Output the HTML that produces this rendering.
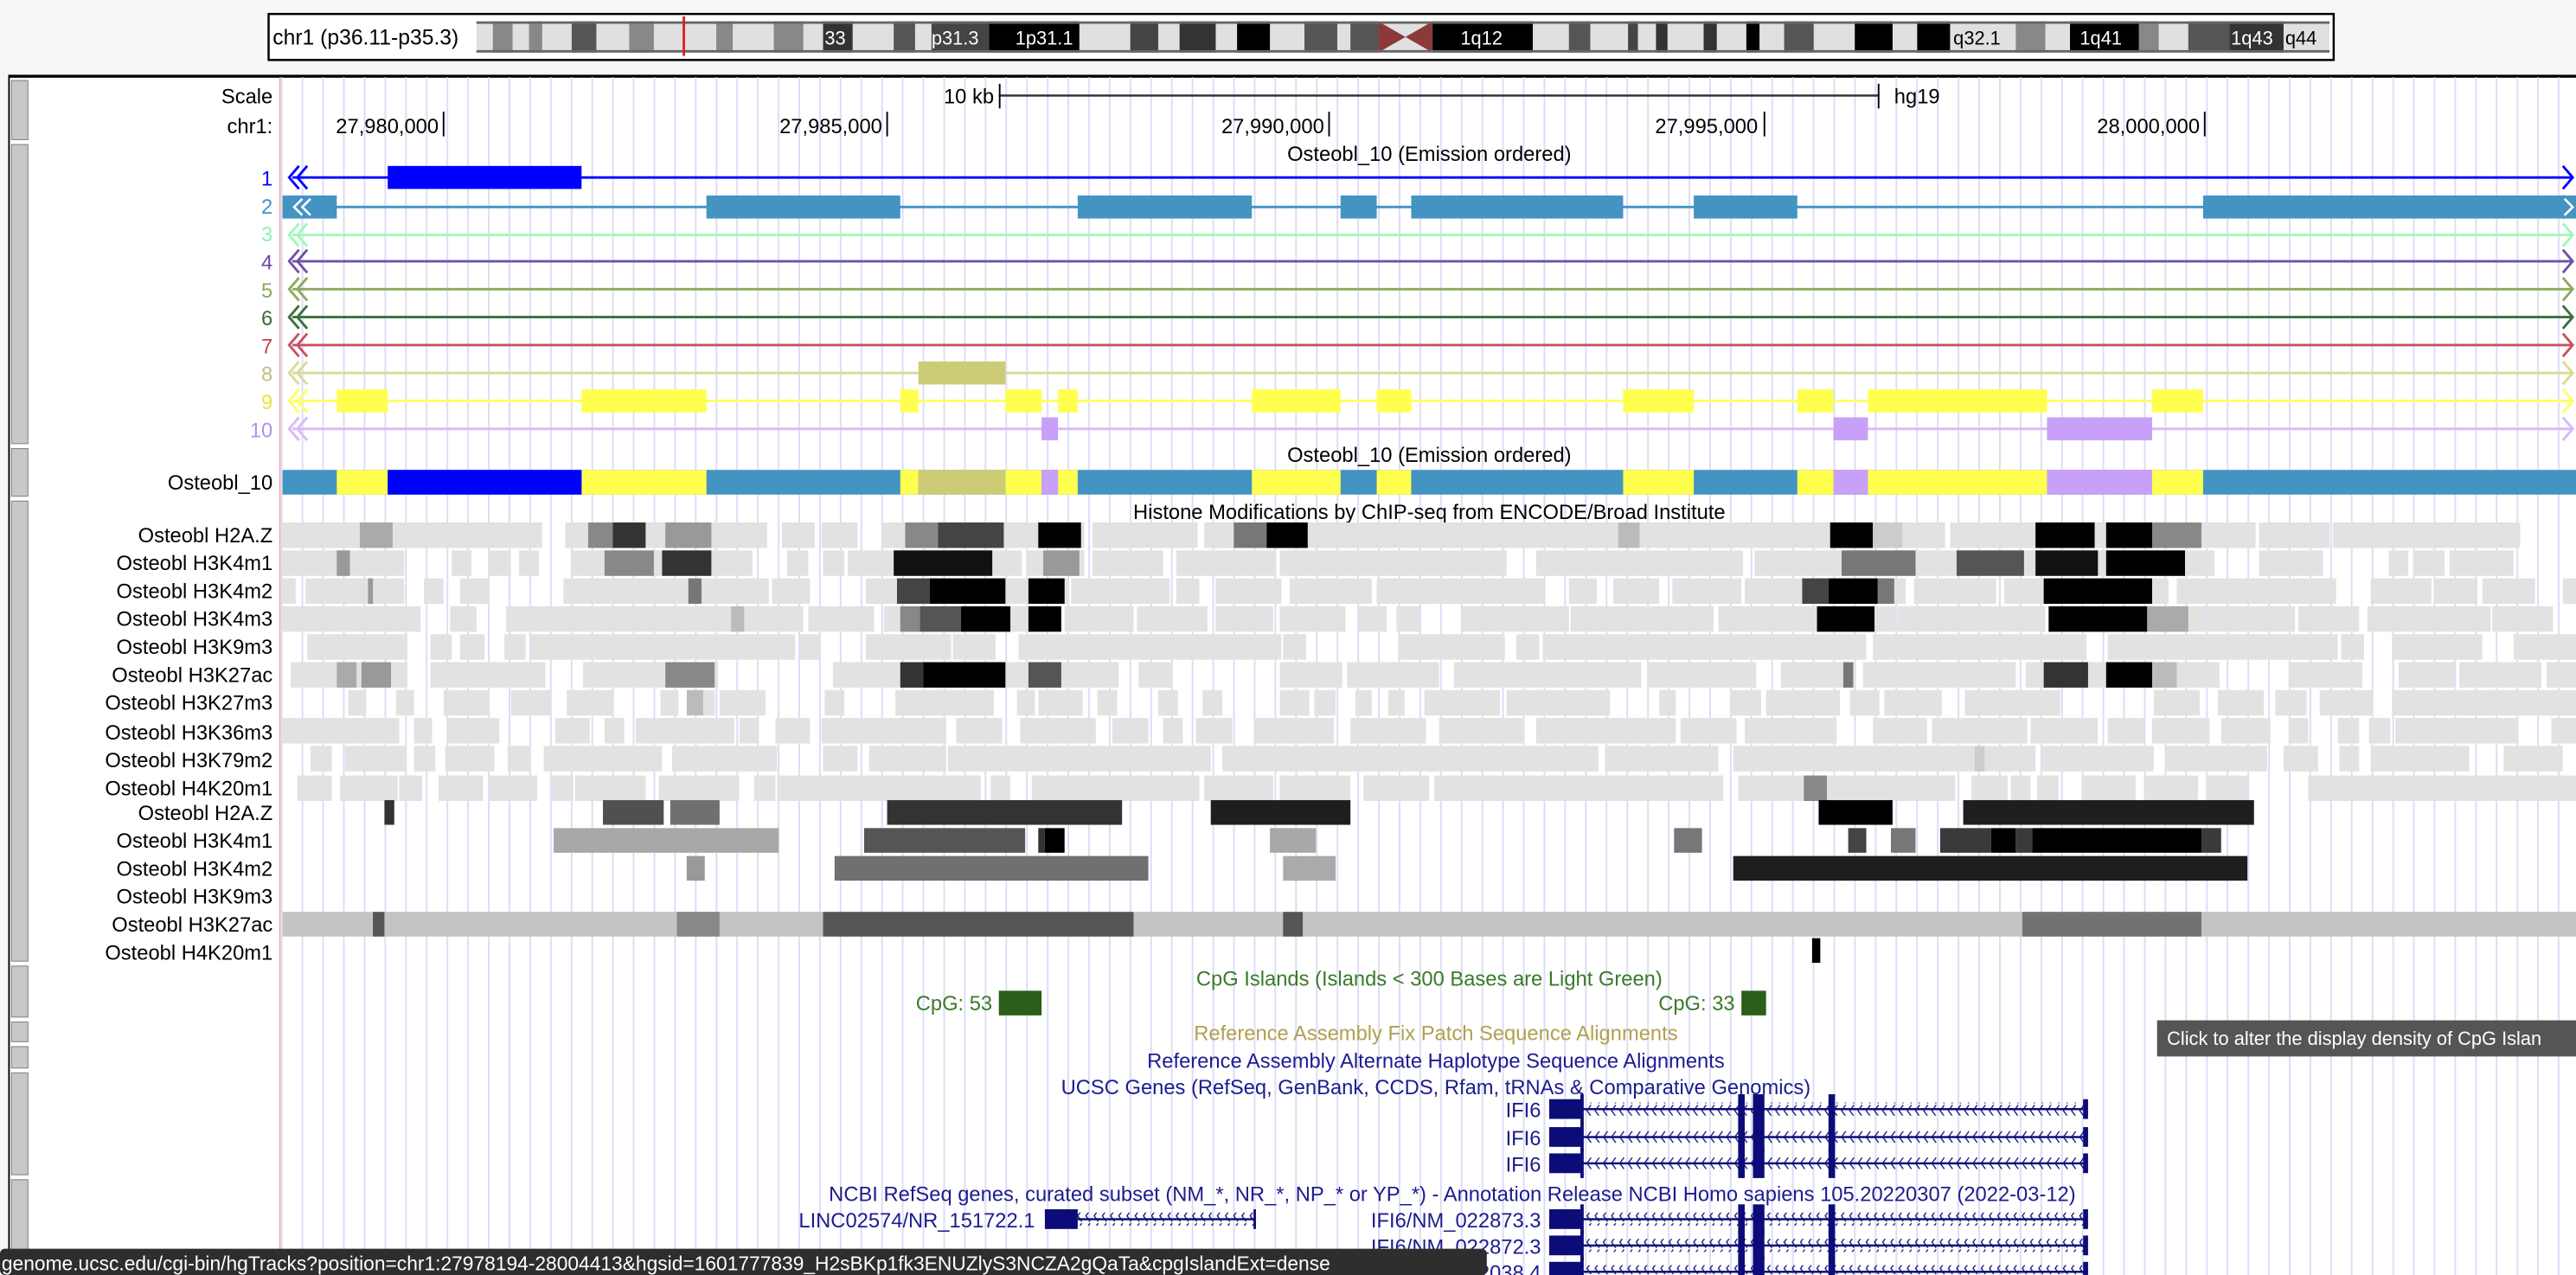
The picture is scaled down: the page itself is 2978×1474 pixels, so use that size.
<!DOCTYPE html>
<html><head><meta charset="utf-8">
<style>
html,body{margin:0;padding:0;background:#f7f7f5;overflow:hidden;}
svg{display:block;}
text{font-family:"Liberation Sans",Arial,sans-serif;}
</style></head>
<body>
<svg width="2978" height="1474" viewBox="0 0 1568 776" preserveAspectRatio="none" xmlns="http://www.w3.org/2000/svg">
<defs>
<pattern id="grid" x="171" y="0" width="12.6" height="10" patternUnits="userSpaceOnUse">
<rect x="0" y="0" width="1" height="10" fill="#dcdcf6"/>
</pattern>
<pattern id="chev" x="0" y="0" width="5" height="8" patternUnits="userSpaceOnUse">
<polyline points="3.5,0.5 1,4 3.5,7.5" fill="none" stroke="#0c0c78" stroke-width="0.7"/>
</pattern>
</defs>
<rect x="0" y="0" width="1568" height="776" fill="#f7f7f5"/>

<!-- ideogram -->
<rect x="163.5" y="8.5" width="1257" height="28" fill="#fff" stroke="#000" stroke-width="1.3"/>
<text x="166" y="27" font-size="13" fill="#000">chr1 (p36.11-p35.3)</text>
<g>
<rect x="290" y="13" width="1128" height="19" fill="#e0e0e0"/>
<rect x="300" y="13" width="12" height="19" fill="#888"/>
<rect x="322" y="13" width="8" height="19" fill="#888"/>
<rect x="348" y="13" width="15" height="19" fill="#555"/>
<rect x="383" y="13" width="15" height="19" fill="#888"/>
<rect x="436" y="13" width="10" height="19" fill="#888"/>
<rect x="471" y="13" width="18" height="19" fill="#888"/>
<rect x="501" y="13" width="18" height="19" fill="#333"/>
<rect x="544" y="13" width="13" height="19" fill="#555"/>
<rect x="567" y="13" width="35" height="19" fill="#444"/>
<rect x="602" y="13" width="55" height="19" fill="#000"/>
<rect x="688" y="13" width="17" height="19" fill="#444"/>
<rect x="718" y="13" width="22" height="19" fill="#333"/>
<rect x="753" y="13" width="20" height="19" fill="#000"/>
<rect x="794" y="13" width="20" height="19" fill="#555"/>
<rect x="822" y="13" width="17" height="19" fill="#555"/>
<polygon points="839,13 872,32 872,13 839,32" fill="#8b3a3a"/>
<rect x="872" y="13" width="61" height="19" fill="#000"/>
<rect x="955" y="13" width="13" height="19" fill="#555"/>
<rect x="991" y="13" width="6" height="19" fill="#444"/>
<rect x="1008" y="13" width="7" height="19" fill="#333"/>
<rect x="1037" y="13" width="8" height="19" fill="#333"/>
<rect x="1063" y="13" width="8" height="19" fill="#000"/>
<rect x="1086" y="13" width="18" height="19" fill="#555"/>
<rect x="1129" y="13" width="23" height="19" fill="#000"/>
<rect x="1167" y="13" width="20" height="19" fill="#000"/>
<rect x="1227" y="13" width="18" height="19" fill="#888"/>
<rect x="1260" y="13" width="42" height="19" fill="#000"/>
<rect x="1302" y="13" width="12" height="19" fill="#888"/>
<rect x="1332" y="13" width="25" height="19" fill="#555"/>
<rect x="1357" y="13" width="33" height="19" fill="#333"/>
<rect x="290" y="13" width="1128" height="1.5" fill="#666"/>
<rect x="290" y="30.5" width="1128" height="1.5" fill="#666"/>
<rect x="415.5" y="10" width="1.5" height="24" fill="#e02020"/>
<text x="502" y="27" font-size="11.5" fill="#fff">33</text>
<text x="567" y="27" font-size="11.5" fill="#fff">p31.3</text>
<text x="618" y="27" font-size="11.5" fill="#fff">1p31.1</text>
<text x="889" y="27" font-size="11.5" fill="#fff">1q12</text>
<text x="1189" y="27" font-size="11.5" fill="#000">q32.1</text>
<text x="1266" y="27" font-size="11.5" fill="#fff">1q41</text>
<text x="1358" y="27" font-size="11.5" fill="#fff">1q43</text>
<text x="1391" y="27" font-size="11.5" fill="#000">q44</text>
</g>

<!-- main panel -->
<rect x="5" y="46" width="1563" height="730" fill="#fff"/>
<rect x="5" y="45.5" width="1563" height="1.8" fill="#000"/>
<rect x="5" y="46" width="1" height="730" fill="#000"/>
<rect x="171" y="47" width="1397" height="729" fill="url(#grid)"/>
<rect x="170" y="47" width="0.8" height="729" fill="#f0a0a0"/>

<!-- side buttons -->
<g fill="#c8c8c8" stroke="#888" stroke-width="0.6">
<rect x="7" y="49" width="10" height="36"/>
<rect x="7" y="88" width="10" height="182"/>
<rect x="7" y="273" width="10" height="29"/>
<rect x="7" y="305" width="10" height="280"/>
<rect x="7" y="588" width="10" height="31"/>
<rect x="7" y="622" width="10" height="12"/>
<rect x="7" y="637" width="10" height="13"/>
<rect x="7" y="653" width="10" height="62"/>
<rect x="7" y="718" width="10" height="60"/>
</g>

<!-- scale -->
<g font-size="12.5" fill="#000">
<text x="166" y="63" text-anchor="end">Scale</text>
<text x="166" y="81" text-anchor="end">chr1:</text>
<text x="605" y="63" text-anchor="end">10 kb</text>
<text x="1153" y="63">hg19</text>
<text x="267" y="81" text-anchor="end">27,980,000</text>
<text x="537" y="81" text-anchor="end">27,985,000</text>
<text x="806" y="81" text-anchor="end">27,990,000</text>
<text x="1070" y="81" text-anchor="end">27,995,000</text>
<text x="1339" y="81" text-anchor="end">28,000,000</text>
</g>
<rect x="608" y="57.5" width="536" height="1.3" fill="#333"/>
<rect x="608" y="51" width="1" height="15" fill="#000"/>
<rect x="1143" y="51" width="1" height="15" fill="#000"/>
<g fill="#000"><rect x="269.5" y="68" width="1" height="15"/><rect x="539.5" y="68" width="1" height="15"/><rect x="808.5" y="68" width="1" height="15"/><rect x="1073.5" y="68" width="1" height="15"/><rect x="1341.5" y="68" width="1" height="15"/></g>

<text x="870" y="98" font-size="12.5" text-anchor="middle" fill="#000">Osteobl_10 (Emission ordered)</text>

<!-- emission rows -->
<g font-size="12.5" text-anchor="end">
<text x="166" y="113" fill="#0000ff">1</text>
<text x="166" y="130" fill="#4393c3">2</text>
<text x="166" y="147" fill="#90f0b0">3</text>
<text x="166" y="164" fill="#6a4aa8">4</text>
<text x="166" y="181" fill="#8aa858">5</text>
<text x="166" y="198" fill="#3a6a3a">6</text>
<text x="166" y="215" fill="#c84050">7</text>
<text x="166" y="232" fill="#c0c080">8</text>
<text x="166" y="249" fill="#e6e640">9</text>
<text x="166" y="266" fill="#b090f0">10</text>
</g>
<g stroke-width="1.5" fill="none">
<g stroke="#0000ff"><line x1="178" y1="108" x2="1566" y2="108"/><polyline points="187,101 181,108 187,115"/><polyline points="182,101 176,108 182,115"/><polyline points="1560,101 1566,108 1560,115"/></g>
<g stroke="#4393c3"><line x1="178" y1="126" x2="1566" y2="126"/><polyline points="1560,119 1566,126 1560,133"/></g>
<g stroke="#9ff8b8"><line x1="178" y1="143" x2="1566" y2="143"/><polyline points="187,136 181,143 187,150"/><polyline points="182,136 176,143 182,150"/><polyline points="1560,136 1566,143 1560,150"/></g>
<g stroke="#7050a8"><line x1="178" y1="159" x2="1566" y2="159"/><polyline points="187,152 181,159 187,166"/><polyline points="182,152 176,159 182,166"/><polyline points="1560,152 1566,159 1560,166"/></g>
<g stroke="#8fa860"><line x1="178" y1="176" x2="1566" y2="176"/><polyline points="187,169 181,176 187,183"/><polyline points="182,169 176,176 182,183"/><polyline points="1560,169 1566,176 1560,183"/></g>
<g stroke="#3c6e3c"><line x1="178" y1="193" x2="1566" y2="193"/><polyline points="187,186 181,193 187,200"/><polyline points="182,186 176,193 182,200"/><polyline points="1560,186 1566,193 1560,200"/></g>
<g stroke="#c85060"><line x1="178" y1="210" x2="1566" y2="210"/><polyline points="187,203 181,210 187,217"/><polyline points="182,203 176,210 182,217"/><polyline points="1560,203 1566,210 1560,217"/></g>
<g stroke="#dada98"><line x1="178" y1="227" x2="1566" y2="227"/><polyline points="187,220 181,227 187,234"/><polyline points="182,220 176,227 182,234"/><polyline points="1560,220 1566,227 1560,234"/></g>
<g stroke="#ffff60"><line x1="178" y1="244" x2="1566" y2="244"/><polyline points="187,237 181,244 187,251"/><polyline points="182,237 176,244 182,251"/><polyline points="1560,237 1566,244 1560,251"/></g>
<g stroke="#d8b8fa"><line x1="178" y1="261" x2="1566" y2="261"/><polyline points="187,254 181,261 187,268"/><polyline points="182,254 176,261 182,268"/><polyline points="1560,254 1566,261 1560,268"/></g>
</g>
<rect x="236" y="101" width="118" height="14" fill="#0000ff"/>
<g fill="#4393c3">
<rect x="172" y="119" width="33" height="14"/><rect x="430" y="119" width="118" height="14"/><rect x="656" y="119" width="106" height="14"/><rect x="816" y="119" width="22" height="14"/><rect x="859" y="119" width="129" height="14"/><rect x="1031" y="119" width="63" height="14"/><rect x="1341" y="119" width="227" height="14"/>
</g>
<g stroke="#fff" stroke-width="1.4" fill="none"><polyline points="184,121 179,126 184,131"/><polyline points="189,121 184,126 189,131"/><polyline points="1561,121 1566,126 1561,131"/></g>
<rect x="559" y="220" width="53" height="14" fill="#cccc77"/>
<g fill="#ffff50">
<rect x="205" y="237" width="31" height="14"/><rect x="354" y="237" width="76" height="14"/><rect x="548" y="237" width="11" height="14"/><rect x="612" y="237" width="22" height="14"/><rect x="644" y="237" width="12" height="14"/><rect x="762" y="237" width="54" height="14"/><rect x="838" y="237" width="21" height="14"/><rect x="988" y="237" width="43" height="14"/><rect x="1094" y="237" width="22" height="14"/><rect x="1137" y="237" width="109" height="14"/><rect x="1310" y="237" width="31" height="14"/>
</g>
<g fill="#c8a0f8">
<rect x="634" y="254" width="10" height="14"/><rect x="1116" y="254" width="21" height="14"/><rect x="1246" y="254" width="64" height="14"/>
</g>

<text x="870" y="281" font-size="12.5" text-anchor="middle" fill="#000">Osteobl_10 (Emission ordered)</text>
<text x="166" y="298" font-size="12.5" text-anchor="end" fill="#000">Osteobl_10</text>
<g>
<rect x="172" y="286" width="1396" height="15" fill="#4393c3"/>
<g fill="#ffff50"><rect x="205" y="286" width="31" height="15"/><rect x="354" y="286" width="76" height="15"/><rect x="548" y="286" width="11" height="15"/><rect x="612" y="286" width="22" height="15"/><rect x="644" y="286" width="12" height="15"/><rect x="762" y="286" width="54" height="15"/><rect x="838" y="286" width="21" height="15"/><rect x="988" y="286" width="43" height="15"/><rect x="1094" y="286" width="22" height="15"/><rect x="1137" y="286" width="109" height="15"/><rect x="1310" y="286" width="31" height="15"/></g>
<rect x="236" y="286" width="118" height="15" fill="#0000ff"/>
<rect x="559" y="286" width="53" height="15" fill="#cccc77"/>
<g fill="#c8a0f8"><rect x="634" y="286" width="10" height="15"/><rect x="1116" y="286" width="21" height="15"/><rect x="1246" y="286" width="64" height="15"/></g>
</g>

<text x="870" y="316" font-size="12.5" text-anchor="middle" fill="#000">Histone Modifications by ChIP-seq from ENCODE/Broad Institute</text>

<!-- histone labels -->
<g font-size="12.5" text-anchor="end" fill="#000">
<text x="166" y="330">Osteobl H2A.Z</text>
<text x="166" y="347">Osteobl H3K4m1</text>
<text x="166" y="364">Osteobl H3K4m2</text>
<text x="166" y="381">Osteobl H3K4m3</text>
<text x="166" y="398">Osteobl H3K9m3</text>
<text x="166" y="415">Osteobl H3K27ac</text>
<text x="166" y="432">Osteobl H3K27m3</text>
<text x="166" y="450">Osteobl H3K36m3</text>
<text x="166" y="467">Osteobl H3K79m2</text>
<text x="166" y="484">Osteobl H4K20m1</text>
<text x="166" y="499">Osteobl H2A.Z</text>
<text x="166" y="516">Osteobl H3K4m1</text>
<text x="166" y="533">Osteobl H3K4m2</text>
<text x="166" y="550">Osteobl H3K9m3</text>
<text x="166" y="567">Osteobl H3K27ac</text>
<text x="166" y="584">Osteobl H4K20m1</text>
</g>

<!-- density rows -->
<g fill="#e2e2e2">
<!-- H2A.Z -->
<rect x="172" y="318" width="158" height="15.5"/><rect x="344" y="318" width="123" height="15.5"/><rect x="476" y="318" width="20" height="15.5"/><rect x="500" y="318" width="22" height="15.5"/><rect x="537" y="318" width="123" height="15.5"/><rect x="665" y="318" width="64" height="15.5"/><rect x="733" y="318" width="86" height="15.5"/><rect x="819" y="318" width="365" height="15.5"/><rect x="1187" y="318" width="186" height="15.5"/><rect x="1375" y="318" width="43" height="15.5"/><rect x="1420" y="318" width="114" height="15.5"/>
<!-- H3K4m1 -->
<rect x="172" y="335" width="74" height="15.5"/><rect x="275" y="335" width="12" height="15.5"/><rect x="297" y="335" width="14" height="15.5"/><rect x="316" y="335" width="12" height="15.5"/><rect x="348" y="335" width="110" height="15.5"/><rect x="479" y="335" width="13" height="15.5"/><rect x="501" y="335" width="13" height="15.5"/><rect x="516" y="335" width="106" height="15.5"/><rect x="625" y="335" width="35" height="15.5"/><rect x="665" y="335" width="43" height="15.5"/><rect x="716" y="335" width="60" height="15.5"/><rect x="779" y="335" width="138" height="15.5"/><rect x="935" y="335" width="126" height="15.5"/><rect x="1068" y="335" width="280" height="15.5"/><rect x="1375" y="335" width="39" height="15.5"/><rect x="1454" y="335" width="12" height="15.5"/><rect x="1469" y="335" width="19" height="15.5"/><rect x="1491" y="335" width="39" height="15.5"/>
<!-- H3K4m2 -->
<rect x="172" y="352" width="8" height="15.5"/><rect x="186" y="352" width="60" height="15.5"/><rect x="258" y="352" width="12" height="15.5"/><rect x="280" y="352" width="18" height="15.5"/><rect x="343" y="352" width="125" height="15.5"/><rect x="470" y="352" width="23" height="15.5"/><rect x="527" y="352" width="123" height="15.5"/><rect x="652" y="352" width="60" height="15.5"/><rect x="716" y="352" width="14" height="15.5"/><rect x="740" y="352" width="40" height="15.5"/><rect x="785" y="352" width="50" height="15.5"/><rect x="838" y="352" width="102" height="15.5"/><rect x="955" y="352" width="17" height="15.5"/><rect x="982" y="352" width="28" height="15.5"/><rect x="1018" y="352" width="42" height="15.5"/><rect x="1062" y="352" width="98" height="15.5"/><rect x="1165" y="352" width="50" height="15.5"/><rect x="1220" y="352" width="100" height="15.5"/><rect x="1325" y="352" width="97" height="15.5"/><rect x="1443" y="352" width="37" height="15.5"/><rect x="1482" y="352" width="26" height="15.5"/><rect x="1511" y="352" width="32" height="15.5"/><rect x="1560" y="352" width="8" height="15.5"/>
<!-- H3K4m3 -->
<rect x="172" y="369" width="84" height="15.5"/><rect x="274" y="369" width="16" height="15.5"/><rect x="308" y="369" width="181" height="15.5"/><rect x="492" y="369" width="40" height="15.5"/><rect x="538" y="369" width="77" height="15.5"/><rect x="615" y="369" width="30" height="15.5"/><rect x="648" y="369" width="42" height="15.5"/><rect x="692" y="369" width="43" height="15.5"/><rect x="740" y="369" width="35" height="15.5"/><rect x="779" y="369" width="40" height="15.5"/><rect x="827" y="369" width="17" height="15.5"/><rect x="850" y="369" width="14" height="15.5"/><rect x="890" y="369" width="65" height="15.5"/><rect x="956" y="369" width="87" height="15.5"/><rect x="1046" y="369" width="108" height="15.5"/><rect x="1155" y="369" width="90" height="15.5"/><rect x="1247" y="369" width="96" height="15.5"/><rect x="1344" y="369" width="53" height="15.5"/><rect x="1399" y="369" width="37" height="15.5"/><rect x="1441" y="369" width="75" height="15.5"/><rect x="1517" y="369" width="37" height="15.5"/>
<!-- H3K9m3 -->
<rect x="187" y="386" width="61" height="15.5"/><rect x="262" y="386" width="13" height="15.5"/><rect x="280" y="386" width="15" height="15.5"/><rect x="307" y="386" width="13" height="15.5"/><rect x="323" y="386" width="161" height="15.5"/><rect x="487" y="386" width="12" height="15.5"/><rect x="527" y="386" width="52" height="15.5"/><rect x="580" y="386" width="26" height="15.5"/><rect x="620" y="386" width="160" height="15.5"/><rect x="781" y="386" width="14" height="15.5"/><rect x="851" y="386" width="65" height="15.5"/><rect x="923" y="386" width="14" height="15.5"/><rect x="939" y="386" width="197" height="15.5"/><rect x="1140" y="386" width="130" height="15.5"/><rect x="1283" y="386" width="140" height="15.5"/><rect x="1425" y="386" width="14" height="15.5"/><rect x="1456" y="386" width="55" height="15.5"/><rect x="1530" y="386" width="38" height="15.5"/>
<!-- H3K27ac -->
<rect x="177" y="403" width="71" height="15.5"/><rect x="262" y="403" width="70" height="15.5"/><rect x="355" y="403" width="82" height="15.5"/><rect x="507" y="403" width="96" height="15.5"/><rect x="605" y="403" width="21" height="15.5"/><rect x="620" y="403" width="21" height="15.5"/><rect x="646" y="403" width="35" height="15.5"/><rect x="693" y="403" width="20" height="15.5"/><rect x="779" y="403" width="38" height="15.5"/><rect x="820" y="403" width="56" height="15.5"/><rect x="885" y="403" width="114" height="15.5"/><rect x="1003" y="403" width="66" height="15.5"/><rect x="1084" y="403" width="45" height="15.5"/><rect x="1134" y="403" width="93" height="15.5"/><rect x="1233" y="403" width="118" height="15.5"/><rect x="1393" y="403" width="45" height="15.5"/><rect x="1460" y="403" width="34" height="15.5"/><rect x="1497" y="403" width="50" height="15.5"/><rect x="1550" y="403" width="18" height="15.5"/>
<!-- H3K27m3 -->
<rect x="212" y="420" width="11" height="15.5"/><rect x="241" y="420" width="11" height="15.5"/><rect x="270" y="420" width="28" height="15.5"/><rect x="311" y="420" width="24" height="15.5"/><rect x="345" y="420" width="28" height="15.5"/><rect x="402" y="420" width="11" height="15.5"/><rect x="421" y="420" width="14" height="15.5"/><rect x="438" y="420" width="28" height="15.5"/><rect x="502" y="420" width="12" height="15.5"/><rect x="545" y="420" width="60" height="15.5"/><rect x="619" y="420" width="11" height="15.5"/><rect x="632" y="420" width="27" height="15.5"/><rect x="668" y="420" width="12" height="15.5"/><rect x="705" y="420" width="12" height="15.5"/><rect x="732" y="420" width="12" height="15.5"/><rect x="779" y="420" width="18" height="15.5"/><rect x="800" y="420" width="13" height="15.5"/><rect x="825" y="420" width="10" height="15.5"/><rect x="845" y="420" width="10" height="15.5"/><rect x="867" y="420" width="46" height="15.5"/><rect x="917" y="420" width="63" height="15.5"/><rect x="1010" y="420" width="10" height="15.5"/><rect x="1053" y="420" width="19" height="15.5"/><rect x="1075" y="420" width="45" height="15.5"/><rect x="1126" y="420" width="18" height="15.5"/><rect x="1147" y="420" width="35" height="15.5"/><rect x="1196" y="420" width="58" height="15.5"/><rect x="1311" y="420" width="28" height="15.5"/><rect x="1350" y="420" width="28" height="15.5"/><rect x="1385" y="420" width="19" height="15.5"/><rect x="1412" y="420" width="32" height="15.5"/><rect x="1456" y="420" width="112" height="15.5"/>
<!-- H3K36m3 -->
<rect x="172" y="437" width="71" height="15.5"/><rect x="252" y="437" width="11" height="15.5"/><rect x="272" y="437" width="32" height="15.5"/><rect x="338" y="437" width="21" height="15.5"/><rect x="368" y="437" width="12" height="15.5"/><rect x="387" y="437" width="60" height="15.5"/><rect x="450" y="437" width="12" height="15.5"/><rect x="472" y="437" width="21" height="15.5"/><rect x="500" y="437" width="76" height="15.5"/><rect x="582" y="437" width="28" height="15.5"/><rect x="621" y="437" width="46" height="15.5"/><rect x="677" y="437" width="22" height="15.5"/><rect x="708" y="437" width="12" height="15.5"/><rect x="728" y="437" width="22" height="15.5"/><rect x="764" y="437" width="48" height="15.5"/><rect x="822" y="437" width="46" height="15.5"/><rect x="876" y="437" width="52" height="15.5"/><rect x="935" y="437" width="85" height="15.5"/><rect x="1023" y="437" width="34" height="15.5"/><rect x="1062" y="437" width="56" height="15.5"/><rect x="1140" y="437" width="33" height="15.5"/><rect x="1176" y="437" width="58" height="15.5"/><rect x="1236" y="437" width="41" height="15.5"/><rect x="1283" y="437" width="22" height="15.5"/><rect x="1310" y="437" width="35" height="15.5"/><rect x="1352" y="437" width="30" height="15.5"/><rect x="1393" y="437" width="12" height="15.5"/><rect x="1423" y="437" width="13" height="15.5"/><rect x="1442" y="437" width="13" height="15.5"/><rect x="1458" y="437" width="75" height="15.5"/><rect x="1553" y="437" width="15" height="15.5"/>
<!-- H3K79m2 -->
<rect x="189" y="454" width="13" height="15.5"/><rect x="210" y="454" width="37" height="15.5"/><rect x="252" y="454" width="13" height="15.5"/><rect x="271" y="454" width="30" height="15.5"/><rect x="309" y="454" width="14" height="15.5"/><rect x="331" y="454" width="72" height="15.5"/><rect x="409" y="454" width="64" height="15.5"/><rect x="501" y="454" width="21" height="15.5"/><rect x="529" y="454" width="47" height="15.5"/><rect x="577" y="454" width="160" height="15.5"/><rect x="744" y="454" width="35" height="15.5"/><rect x="779" y="454" width="194" height="15.5"/><rect x="977" y="454" width="69" height="15.5"/><rect x="1055" y="454" width="184" height="15.5"/><rect x="1243" y="454" width="68" height="15.5"/><rect x="1318" y="454" width="62" height="15.5"/><rect x="1390" y="454" width="21" height="15.5"/><rect x="1424" y="454" width="12" height="15.5"/><rect x="1443" y="454" width="60" height="15.5"/><rect x="1524" y="454" width="36" height="15.5"/>
<!-- H4K20m1 -->
<rect x="181" y="472" width="21" height="15.5"/><rect x="207" y="472" width="35" height="15.5"/><rect x="243" y="472" width="14" height="15.5"/><rect x="267" y="472" width="27" height="15.5"/><rect x="298" y="472" width="29" height="15.5"/><rect x="336" y="472" width="13" height="15.5"/><rect x="350" y="472" width="43" height="15.5"/><rect x="401" y="472" width="49" height="15.5"/><rect x="459" y="472" width="13" height="15.5"/><rect x="473" y="472" width="124" height="15.5"/><rect x="603" y="472" width="12" height="15.5"/><rect x="628" y="472" width="102" height="15.5"/><rect x="733" y="472" width="42" height="15.5"/><rect x="779" y="472" width="43" height="15.5"/><rect x="830" y="472" width="40" height="15.5"/><rect x="873" y="472" width="176" height="15.5"/><rect x="1058" y="472" width="132" height="15.5"/><rect x="1200" y="472" width="22" height="15.5"/><rect x="1224" y="472" width="12" height="15.5"/><rect x="1240" y="472" width="13" height="15.5"/><rect x="1267" y="472" width="33" height="15.5"/><rect x="1305" y="472" width="33" height="15.5"/><rect x="1343" y="472" width="25" height="15.5"/><rect x="1405" y="472" width="163" height="15.5"/>
</g>
<!-- dark spots in density rows -->
<g>
<rect x="219" y="318" width="20" height="15.5" fill="#aaa"/>
<rect x="358" y="318" width="15" height="15.5" fill="#888"/><rect x="373" y="318" width="20" height="15.5" fill="#333"/><rect x="405" y="318" width="28" height="15.5" fill="#999"/>
<rect x="551" y="318" width="20" height="15.5" fill="#888"/><rect x="571" y="318" width="40" height="15.5" fill="#444"/><rect x="632" y="318" width="26" height="15.5" fill="#000"/>
<rect x="751" y="318" width="20" height="15.5" fill="#777"/><rect x="771" y="318" width="25" height="15.5" fill="#000"/>
<rect x="985" y="318" width="13" height="15.5" fill="#bbb"/><rect x="1114" y="318" width="26" height="15.5" fill="#000"/><rect x="1140" y="318" width="18" height="15.5" fill="#ccc"/>
<rect x="1239" y="318" width="36" height="15.5" fill="#000"/><rect x="1282" y="318" width="28" height="15.5" fill="#000"/><rect x="1310" y="318" width="30" height="15.5" fill="#888"/>

<rect x="205" y="335" width="8" height="15.5" fill="#999"/><rect x="368" y="335" width="30" height="15.5" fill="#888"/><rect x="403" y="335" width="30" height="15.5" fill="#333"/>
<rect x="544" y="335" width="60" height="15.5" fill="#111"/><rect x="635" y="335" width="22" height="15.5" fill="#999"/>
<rect x="1121" y="335" width="45" height="15.5" fill="#777"/><rect x="1191" y="335" width="41" height="15.5" fill="#555"/><rect x="1239" y="335" width="38" height="15.5" fill="#111"/><rect x="1282" y="335" width="48" height="15.5" fill="#000"/>

<rect x="224" y="352" width="3" height="15.5" fill="#999"/><rect x="419" y="352" width="8" height="15.5" fill="#777"/>
<rect x="546" y="352" width="20" height="15.5" fill="#444"/><rect x="566" y="352" width="46" height="15.5" fill="#000"/><rect x="626" y="352" width="22" height="15.5" fill="#000"/>
<rect x="1097" y="352" width="16" height="15.5" fill="#444"/><rect x="1113" y="352" width="30" height="15.5" fill="#000"/><rect x="1143" y="352" width="10" height="15.5" fill="#777"/><rect x="1244" y="352" width="66" height="15.5" fill="#000"/>

<rect x="445" y="369" width="8" height="15.5" fill="#bbb"/><rect x="548" y="369" width="12" height="15.5" fill="#888"/><rect x="560" y="369" width="25" height="15.5" fill="#555"/><rect x="585" y="369" width="30" height="15.5" fill="#000"/><rect x="626" y="369" width="20" height="15.5" fill="#000"/>
<rect x="1106" y="369" width="35" height="15.5" fill="#000"/><rect x="1247" y="369" width="60" height="15.5" fill="#000"/><rect x="1307" y="369" width="25" height="15.5" fill="#aaa"/>

<rect x="205" y="403" width="12" height="15.5" fill="#aaa"/><rect x="220" y="403" width="18" height="15.5" fill="#999"/><rect x="405" y="403" width="30" height="15.5" fill="#888"/>
<rect x="548" y="403" width="14" height="15.5" fill="#333"/><rect x="562" y="403" width="50" height="15.5" fill="#000"/><rect x="626" y="403" width="20" height="15.5" fill="#555"/>
<rect x="1122" y="403" width="6" height="15.5" fill="#777"/><rect x="1244" y="403" width="27" height="15.5" fill="#333"/><rect x="1282" y="403" width="28" height="15.5" fill="#000"/><rect x="1310" y="403" width="15" height="15.5" fill="#bbb"/>
<rect x="418" y="420" width="10" height="15.5" fill="#bbb"/><rect x="1202" y="454" width="6" height="15.5" fill="#ccc"/><rect x="1098" y="472" width="14" height="15.5" fill="#888"/>
</g>

<!-- signal rows -->
<g>
<rect x="234" y="487" width="6" height="15" fill="#333"/>
<rect x="367" y="487" width="37" height="15" fill="#505050"/><rect x="408" y="487" width="30" height="15" fill="#707070"/>
<rect x="540" y="487" width="143" height="15" fill="#333"/><rect x="737" y="487" width="85" height="15" fill="#1e1e1e"/>
<rect x="1107" y="487" width="45" height="15" fill="#000"/><rect x="1195" y="487" width="177" height="15" fill="#1e1e1e"/>

<rect x="337" y="504" width="137" height="15" fill="#a8a8a8"/><rect x="526" y="504" width="98" height="15" fill="#555"/><rect x="632" y="504" width="4" height="15" fill="#333"/><rect x="636" y="504" width="12" height="15" fill="#000"/>
<rect x="773" y="504" width="28" height="15" fill="#a8a8a8"/><rect x="1019" y="504" width="17" height="15" fill="#777"/><rect x="1125" y="504" width="11" height="15" fill="#444"/><rect x="1151" y="504" width="15" height="15" fill="#777"/><rect x="1181" y="504" width="31" height="15" fill="#3a3a3a"/><rect x="1212" y="504" width="15" height="15" fill="#000"/><rect x="1227" y="504" width="10" height="15" fill="#3a3a3a"/><rect x="1237" y="504" width="103" height="15" fill="#000"/><rect x="1340" y="504" width="12" height="15" fill="#3a3a3a"/>

<rect x="418" y="521" width="11" height="15" fill="#999"/><rect x="508" y="521" width="191" height="15" fill="#707070"/><rect x="781" y="521" width="32" height="15" fill="#aaa"/><rect x="1055" y="521" width="313" height="15" fill="#1e1e1e"/>

<rect x="172" y="555" width="1396" height="15" fill="#c4c4c4"/><rect x="227" y="555" width="7" height="15" fill="#555"/><rect x="412" y="555" width="26" height="15" fill="#888"/><rect x="501" y="555" width="189" height="15" fill="#555"/><rect x="781" y="555" width="12" height="15" fill="#555"/><rect x="1231" y="555" width="109" height="15" fill="#727272"/>

<rect x="1103" y="571" width="5" height="15" fill="#000"/>
</g>

<!-- CpG -->
<text x="870" y="600" font-size="12.5" text-anchor="middle" fill="#3a7a2a">CpG Islands (Islands &lt; 300 Bases are Light Green)</text>
<text x="604" y="615" font-size="12.5" text-anchor="end" fill="#3a7a2a">CpG: 53</text>
<rect x="608" y="603" width="26" height="15" fill="#2a5e1a"/>
<text x="1056" y="615" font-size="12.5" text-anchor="end" fill="#3a7a2a">CpG: 33</text>
<rect x="1060" y="603" width="15" height="15" fill="#2a5e1a"/>

<text x="874" y="633" font-size="12.5" text-anchor="middle" fill="#b0a050">Reference Assembly Fix Patch Sequence Alignments</text>
<text x="874" y="650" font-size="12.5" text-anchor="middle" fill="#1c1c90">Reference Assembly Alternate Haplotype Sequence Alignments</text>
<text x="874" y="666" font-size="12.5" text-anchor="middle" fill="#1c1c90">UCSC Genes (RefSeq, GenBank, CCDS, Rfam, tRNAs &amp; Comparative Genomics)</text>

<!-- IFI6 genes -->
<g font-size="12.5" fill="#1c1c90" text-anchor="end">
<text x="938" y="680">IFI6</text>
<text x="938" y="697">IFI6</text>
<text x="938" y="713">IFI6</text>
<text x="884" y="731" text-anchor="middle">NCBI RefSeq genes, curated subset (NM_*, NR_*, NP_* or YP_*) - Annotation Release NCBI Homo sapiens 105.20220307 (2022-03-12)</text>
<text x="630" y="747">LINC02574/NR_151722.1</text>
<text x="938" y="747">IFI6/NM_022873.3</text>
<text x="938" y="763">IFI6/NM_022872.3</text>
<text x="938" y="779">IFI6/NM_002038.4</text>
</g>
<g fill="#0c0c78">
<!-- row at y 675 -->
<g>
<rect x="963" y="674.4" width="307" height="1.3"/><rect x="963" y="671" width="307" height="8" fill="url(#chev)"/>
<rect x="943" y="669" width="20" height="12"/><rect x="962" y="666" width="2" height="18"/><rect x="1058" y="666" width="4" height="18"/><rect x="1067" y="666" width="7" height="18"/><rect x="1113" y="666" width="4" height="18"/><rect x="1268" y="669" width="3" height="12"/>
</g>
<g>
<rect x="963" y="691.4" width="307" height="1.3"/><rect x="963" y="688" width="307" height="8" fill="url(#chev)"/>
<rect x="943" y="686" width="20" height="12"/><rect x="962" y="683" width="2" height="18"/><rect x="1058" y="683" width="4" height="18"/><rect x="1067" y="683" width="7" height="18"/><rect x="1113" y="683" width="4" height="18"/><rect x="1268" y="686" width="3" height="12"/>
</g>
<g>
<rect x="963" y="707.4" width="307" height="1.3"/><rect x="963" y="704" width="307" height="8" fill="url(#chev)"/>
<rect x="943" y="702" width="20" height="12"/><rect x="962" y="699" width="2" height="18"/><rect x="1058" y="699" width="4" height="18"/><rect x="1067" y="699" width="7" height="18"/><rect x="1113" y="699" width="4" height="18"/><rect x="1268" y="702" width="3" height="12"/>
</g>
<g>
<rect x="656" y="741.4" width="108" height="1.3"/><rect x="656" y="738" width="108" height="8" fill="url(#chev)"/>
<rect x="636" y="736" width="20" height="12"/><rect x="763" y="736" width="1.5" height="12"/>
</g>
<g>
<rect x="963" y="741.4" width="307" height="1.3"/><rect x="963" y="738" width="307" height="8" fill="url(#chev)"/>
<rect x="943" y="736" width="20" height="12"/><rect x="962" y="733" width="2" height="18"/><rect x="1058" y="733" width="4" height="18"/><rect x="1067" y="733" width="7" height="18"/><rect x="1113" y="733" width="4" height="18"/><rect x="1268" y="736" width="3" height="12"/>
</g>
<g>
<rect x="963" y="757.4" width="307" height="1.3"/><rect x="963" y="754" width="307" height="8" fill="url(#chev)"/>
<rect x="943" y="752" width="20" height="12"/><rect x="962" y="749" width="2" height="18"/><rect x="1058" y="749" width="4" height="18"/><rect x="1067" y="749" width="7" height="18"/><rect x="1113" y="749" width="4" height="18"/><rect x="1268" y="752" width="3" height="12"/>
</g>
<g>
<rect x="963" y="773.4" width="307" height="1.3"/><rect x="963" y="770" width="307" height="8" fill="url(#chev)"/>
<rect x="943" y="768" width="20" height="12"/><rect x="962" y="765" width="2" height="18"/><rect x="1058" y="765" width="4" height="18"/><rect x="1067" y="765" width="7" height="18"/><rect x="1113" y="765" width="4" height="18"/><rect x="1268" y="768" width="3" height="12"/>
</g>
</g>

<!-- tooltip -->
<rect x="1313" y="621" width="255" height="22" fill="#555"/>
<text x="1319" y="636" font-size="11.5" fill="#fff">Click to alter the display density of CpG Islan</text>

<!-- status bar -->
<rect x="0" y="760" width="905" height="16" rx="3" fill="#2e2e2e"/>
<text x="1" y="773" font-size="12" fill="#fff">genome.ucsc.edu/cgi-bin/hgTracks?position=chr1:27978194-28004413&amp;hgsid=1601777839_H2sBKp1fk3ENUZlyS3NCZA2gQaTa&amp;cpgIslandExt=dense</text>
</svg>
</body></html>
